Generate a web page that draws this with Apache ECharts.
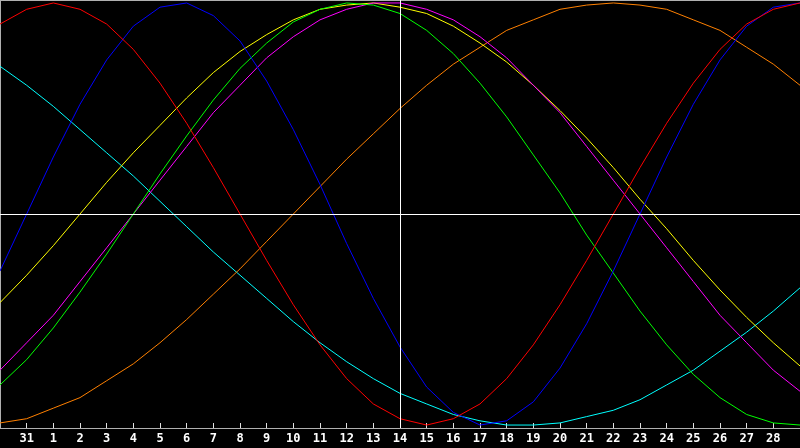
<!DOCTYPE html>
<html>
<head>
<meta charset="utf-8">
<script src="https://cdn.jsdelivr.net/npm/echarts@6/dist/echarts.min.js"></script>
<style>
html,body{margin:0;padding:0;background:#000;}
#chart{width:800px;height:448px;}
</style>
</head>
<body>
<div id="chart"></div>
<script>
// Day labels (Jan 30 .. Mar 1); first and last are at the frame edges and not shown
const dayLabels = ['30','31','1','2','3','4','5','6','7','8','9','10','11','12','13','14','15','16','17','18','19','20','21','22','23','24','25','26','27','28','1'];
const todayLabel = '14';

// Cycle values in percent, one per day
const physical = [-27,0,27,52,73,89,98,100,94,82,63,40,14,-14,-40,-63,-82,-94,-100,-98,-89,-73,-52,-27,0,27,52,73,89,98,100];
const emotional = [90,97,100,97,90,78,62,43,22,0,-22,-43,-62,-78,-90,-97,-100,-97,-90,-78,-62,-43,-22,0,22,43,62,78,90,97,100];
const intellectual = [-81,-69,-54,-37,-19,0,19,37,54,69,81,91,97,100,99,95,87,76,62,46,28,10,-10,-28,-46,-62,-76,-87,-95,-99,-100];
const intuitive = [-74,-61,-48,-32,-16,0,16,32,48,61,74,84,92,97,100,100,97,92,84,74,61,48,32,16,0,-16,-32,-48,-61,-74,-84];
const aesthetic = [-42,-29,-15,0,15,29,42,55,67,77,85,92,97,99,100,98,95,89,81,72,61,49,36,22,7,-7,-22,-36,-49,-61,-72];
const awareness = [-99,-97,-92,-87,-79,-71,-61,-50,-38,-26,-13,0,13,26,38,50,61,71,79,87,92,97,99,100,99,97,92,87,79,71,61];
const spiritual = [70,61,51,40,29,18,6,-6,-18,-29,-40,-51,-61,-70,-78,-85,-90,-95,-98,-100,-100,-99,-96,-93,-88,-81,-74,-65,-56,-46,-35];

const seriesDefs = [
  {name:'Spiritual', data:spiritual, color:'#00ffff'},
  {name:'Awareness', data:awareness, color:'#ff8000'},
  {name:'Aesthetic', data:aesthetic, color:'#ffff00'},
  {name:'Intuitive', data:intuitive, color:'#ff00ff'},
  {name:'Intellectual', data:intellectual, color:'#00ff00'},
  {name:'Physical', data:physical, color:'#0000ff'},
  {name:'Emotional', data:emotional, color:'#ff0000'}
];

const chart = echarts.init(document.getElementById('chart'), null, {renderer:'canvas'});
const series = seriesDefs.map(d => ({
  name: d.name,
  type: 'line',
  data: d.data,
  showSymbol: false,
  symbol: 'none',
  lineStyle: {color: d.color, width: 1},
  itemStyle: {color: d.color},
  silent: true,
  z: 3
}));
series.push({
  type: 'line',
  data: [],
  silent: true,
  z: 2,
  markLine: {
    silent: true,
    symbol: 'none',
    label: {show: false},
    lineStyle: {color: '#ffffff', width: 1, type: 'solid'},
    data: [{yAxis: 0}, {xAxis: todayLabel}]
  }
});

const showInner = (i) => i > 0 && i < dayLabels.length - 1;

chart.setOption({
  backgroundColor: '#000000',
  animation: false,
  grid: {left: 0, right: 0, top: 0, bottom: 20, containLabel: false},
  xAxis: [{
    type: 'category',
    data: dayLabels,
    boundaryGap: false,
    position: 'bottom',
    axisLine: {show: true, onZero: false, lineStyle: {color: '#b0b0b0', width: 1}},
    axisTick: {show: true, inside: true, length: 5, lineStyle: {color: '#e0e0e0'}, interval: showInner},
    axisLabel: {
      show: true, color: '#ffffff', fontFamily: 'DejaVu Sans Mono', fontWeight: 'bold', fontSize: 12,
      margin: 5,
      interval: showInner
    },
    splitLine: {show: false}
  }, {
    type: 'category',
    data: dayLabels,
    boundaryGap: false,
    position: 'top',
    axisLine: {show: true, onZero: false, lineStyle: {color: '#b0b0b0', width: 1}},
    axisTick: {show: false},
    axisLabel: {show: false},
    splitLine: {show: false}
  }],
  yAxis: {
    type: 'value',
    min: -101.4,
    max: 101.4,
    axisLine: {show: true, onZero: false, lineStyle: {color: '#b0b0b0', width: 1}},
    axisTick: {show: false},
    axisLabel: {show: false},
    splitLine: {show: false}
  },
  series: series
});
</script>
</body>
</html>
